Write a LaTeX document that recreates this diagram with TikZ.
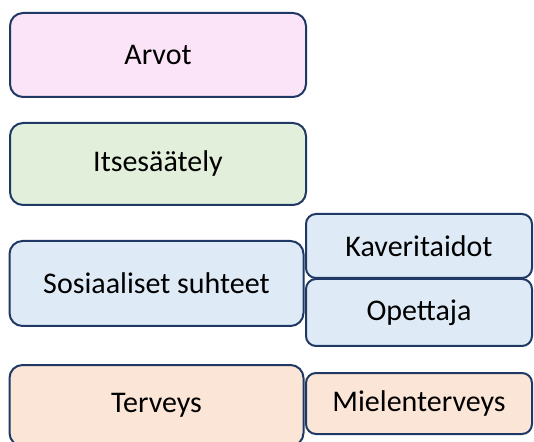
\documentclass[tikz,border=0pt]{standalone}
\usepackage{fontspec}
\setmainfont{Carlito}
\usepackage{tikz}

\definecolor{navyline}{HTML}{1F3864}
\definecolor{pinkfill}{HTML}{FCE4F8}
\definecolor{greenfill}{HTML}{E2EFDA}
\definecolor{bluefill}{HTML}{DEEBF7}
\definecolor{peachfill}{HTML}{FBE5D6}

\begin{document}
\begin{tikzpicture}[
		x=0.5pt, y=-0.5pt,
		every node/.style={rectangle, draw=navyline, line width=1pt, rounded corners=6.5pt,
			inner sep=0pt, font=\fontsize{15}{18}\selectfont},
		bigbox/.style={minimum width=148pt},
		sidebox/.style={minimum width=113pt, rounded corners=5pt}
	]
  \useasboundingbox (0,0) rectangle (534,442);
  \node (arvot) [bigbox, fill=pinkfill, minimum height=42pt] at (158, 55) {Arvot};
  \node (itsesaately) [bigbox, fill=greenfill, minimum height=41pt] at (158, 164) {Itsesäätely};
  \node (sosiaaliset) [bigbox, fill=bluefill, minimum width=147pt, minimum height=42.5pt] at (156.5, 283.5) {Sosiaaliset suhteet};
  \node (kaverit) [sidebox, fill=bluefill, minimum height=32pt] at (419, 246) {Kaveritaidot};
  \node (opettaja) [sidebox, fill=bluefill, minimum height=33.5pt] at (419, 312.5) {Opettaja};
  \node (terveys) [bigbox, fill=peachfill, minimum width=147pt, minimum height=40.5pt] at (156.5, 405.5) {Terveys};
  \node (mieli) [sidebox, fill=peachfill, minimum height=30.5pt] at (419, 403.5) {Mielenterveys};
\end{tikzpicture}
\end{document}
